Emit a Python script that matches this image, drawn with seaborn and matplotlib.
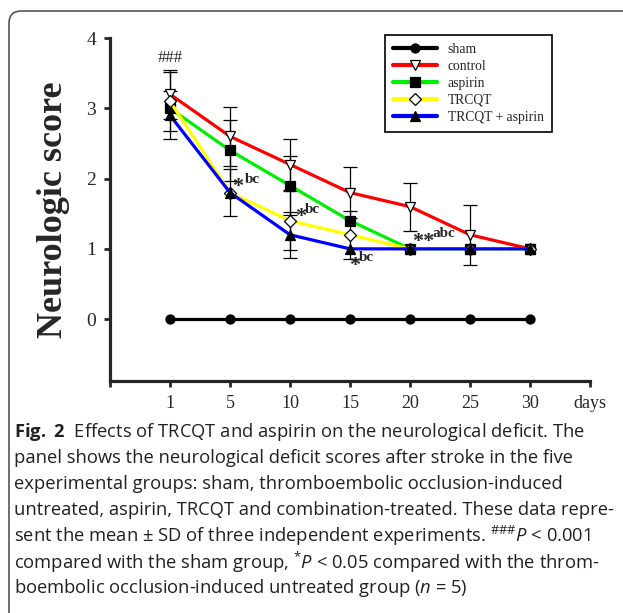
import numpy as np
import pandas as pd
import matplotlib
matplotlib.use('Agg')
import matplotlib.pyplot as plt
import seaborn as sns
from matplotlib.patches import FancyBboxPatch

# данные
days = ['1', '5', '10', '15', '20', '25', '30']
groups = ['sham', 'control', 'aspirin', 'TRCQT', 'TRCQT + aspirin']
sham = [0, 0, 0, 0, 0, 0, 0]
control = [3.2, 2.6, 2.2, 1.8, 1.6, 1.2, 1.0]
aspirin = [3.0, 2.4, 1.9, 1.4, 1.0, 1.0, 1.0]
trcqt = [3.1, 1.8, 1.4, 1.2, 1.0, 1.0, 1.0]
combo = [2.9, 1.8, 1.2, 1.0, 1.0, 1.0, 1.0]
# SD (nan = без планки)
control_sd = [0.35, 0.42, 0.36, 0.36, 0.34, 0.43, np.nan]
aspirin_sd = [np.nan, 0.43, 0.42, np.nan, np.nan, np.nan, np.nan]
trcqt_sd = [0.42, np.nan, 0.42, 0.34, np.nan, np.nan, np.nan]
combo_sd = [0.34, 0.33, 0.33, np.nan, np.nan, np.nan, np.nan]

caption = [
    r"$\mathbf{Fig.\ 2}$  Effects of TRCQT and aspirin on the neurological deficit. The",
    "panel shows the neurological deficit scores after stroke in the five",
    "experimental groups: sham, thromboembolic occlusion-induced",
    "untreated, aspirin, TRCQT and combination-treated. These data repre-",
    r"sent the mean $\pm$ SD of three independent experiments. $^{\#\#\#}\mathit{P}$ < 0.001",
    r"compared with the sham group, $^{*}\mathit{P}$ < 0.05 compared with the throm-",
    r"boembolic occlusion-induced untreated group ($\mathit{n}$ = 5)",
]

sns.set_style('ticks')
plt.rcParams['font.family'] = ['Liberation Serif', 'DejaVu Serif']
plt.rcParams['mathtext.fontset'] = 'custom'
plt.rcParams['mathtext.rm'] = 'Open Sans'
plt.rcParams['mathtext.it'] = 'Open Sans:italic'
plt.rcParams['mathtext.bf'] = 'Open Sans:bold'

pos = np.arange(1, len(days) + 1)
values = [sham, control, aspirin, trcqt, combo]
sds = [None, control_sd, aspirin_sd, trcqt_sd, combo_sd]
colors = ['black', '#ff0000', '#00ee00', '#ffff00', '#0000ff']
marks = ['o', 'v', 's', 'D', '^']
faces = ['black', 'white', 'black', 'white', 'black']
msizes = [6.5, 7.5, 7, 6.5, 7.5]

df = pd.DataFrame({
    'pos': np.tile(pos, len(groups)),
    'score': np.concatenate(values),
    'group': np.repeat(groups, len(days)),
})

fig = plt.figure(figsize=(6.23, 6.13), dpi=100)
ax = fig.add_axes([0.1766, 0.3785, 0.7705, 0.5595])

# планки SD
for v, sd in zip(values, sds):
    if sd is None:
        continue
    sd = np.array(sd)
    m = ~np.isnan(sd)
    ax.errorbar(pos[m], np.array(v)[m], yerr=sd[m], fmt='none', ecolor='black',
                elinewidth=0.9, capsize=5, capthick=0.9, zorder=1)

for g, c, mk, fc, ms in zip(groups, colors, marks, faces, msizes):
    sns.lineplot(data=df[df['group'] == g], x='pos', y='score', ax=ax, color=c,
                 marker=mk, markersize=ms, markerfacecolor=fc, markeredgecolor='black',
                 markeredgewidth=0.9, linewidth=2.3, label=g, zorder=2)

ax.set_xlim(0, 8)
ax.set_ylim(-0.88, 4)
ax.set_xticks(range(0, 9))
ax.set_xticklabels([''] + days + ['days'])
ax.set_yticks([0, 1, 2, 3, 4])
ax.set_xlabel('')
ax.set_ylabel('Neurologic score', fontsize=26, fontweight='bold', labelpad=12)
ax.tick_params(axis='both', labelsize=14, width=2, length=4, direction='out', pad=6)
ax.tick_params(axis='x', labelsize=13)
for s in ['left', 'bottom']:
    ax.spines[s].set_linewidth(2.3)
sns.despine(ax=ax)

leg = ax.legend(loc='upper right', bbox_to_anchor=(0.935, 1.03), fontsize=9.8,
                frameon=True, fancybox=False, edgecolor='black', handlelength=3.2,
                borderpad=0.6, labelspacing=0.3)
leg.get_frame().set_linewidth(1.2)
leg.get_frame().set_alpha(1)
for h in leg.get_lines():
    h.set_linewidth(3)

# значимость
ax.text(1, 3.72, '###', ha='center', va='center', fontsize=12)
star = dict(ha='center', va='center', fontsize=16, fontweight='bold')
sup = dict(ha='center', va='center', fontsize=11, fontweight='bold')
ax.text(2.13, 1.88, '*', **star)
ax.text(2.37, 1.99, 'bc', **sup)
ax.text(3.18, 1.46, '*', **star)
ax.text(3.38, 1.56, 'bc', **sup)
ax.text(4.07, 0.76, '*', **star)
ax.text(4.28, 0.87, 'bc', **sup)
ax.text(5.22, 1.10, '**', **star)
ax.text(5.57, 1.22, 'abc', **sup)

# подпись
for i, line in enumerate(caption):
    fig.text(14 / 623, 1 - (432 + 26 * i) / 613, line, ha='left', va='center',
             fontsize=13.2, family='Open Sans', color='#231f20')

box = FancyBboxPatch((9 / 623, -0.1), 1.2, 1 - 11 / 613 + 0.1, transform=fig.transFigure,
                     boxstyle='round,pad=0,rounding_size=0.02', facecolor='none',
                     edgecolor='#555555', linewidth=1.2, clip_on=False)
fig.patches.append(box)

fig.savefig('out.png', dpi=100)
